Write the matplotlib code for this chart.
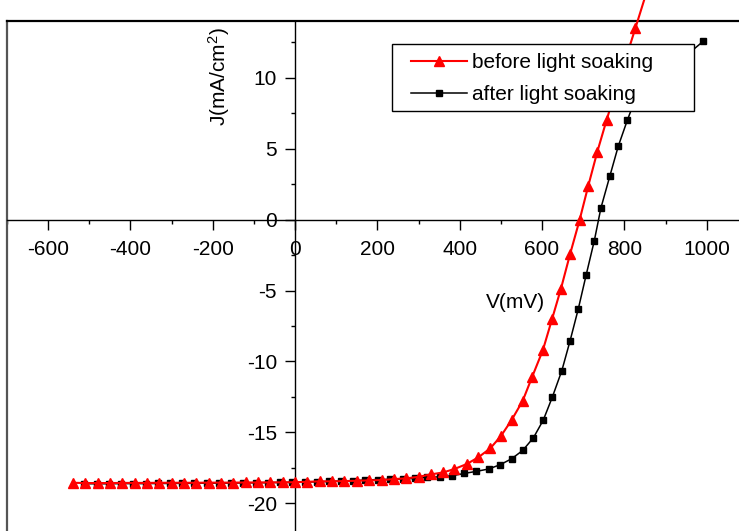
import matplotlib
matplotlib.use('Agg')
import matplotlib.pyplot as plt
from matplotlib.patches import Rectangle
from matplotlib.ticker import MultipleLocator

plt.rcParams['font.family'] = ['Liberation Sans', 'DejaVu Sans']
plt.rcParams['axes.unicode_minus'] = False
plt.rcParams['mathtext.fontset'] = 'custom'
plt.rcParams['mathtext.rm'] = 'Liberation Sans'
plt.rcParams['mathtext.it'] = 'Liberation Sans'

# before light soaking (red triangles)
v_before = [-540, -510, -480, -450, -420, -390, -360, -330, -300, -270, -240, -210,
            -180, -150, -120, -90, -60, -30, 0, 30, 60, 90, 120, 150, 180, 210, 240,
            270, 300, 330, 360, 387, 417, 445, 474, 500, 526, 553, 576, 602, 624, 646,
            668, 691, 712, 734, 757, 780, 804, 827, 873]
j_before = [-18.55, -18.57, -18.57, -18.57, -18.56, -18.56, -18.56, -18.55, -18.55,
            -18.55, -18.55, -18.54, -18.54, -18.54, -18.53, -18.53, -18.52, -18.52,
            -18.51, -18.48, -18.45, -18.45, -18.43, -18.41, -18.38, -18.36, -18.29,
            -18.24, -18.13, -17.96, -17.82, -17.58, -17.23, -16.76, -16.13, -15.26,
            -14.13, -12.77, -11.08, -9.2, -7.04, -4.86, -2.44, -0.05, 2.35, 4.76,
            7.04, 9.2, 11.4, 13.52, 17.8]

# after light soaking (black squares)
v_after = [-512, -482, -452, -423, -393, -363, -334, -304, -274, -245, -215, -185,
           -155, -126, -96, -66, -37, -7, 23, 52, 82, 112, 141, 171, 202, 231, 262,
           292, 321, 352, 381, 411, 440, 470, 498, 526, 553, 579, 603, 625, 648, 668,
           688, 707, 727, 743, 765, 785, 807, 828, 992]
j_after = [-18.62, -18.62, -18.62, -18.61, -18.61, -18.61, -18.60, -18.60, -18.59,
           -18.59, -18.58, -18.58, -18.57, -18.56, -18.55, -18.54, -18.53, -18.52,
           -18.50, -18.48, -18.46, -18.43, -18.40, -18.36, -18.32, -18.31, -18.29,
           -18.24, -18.17, -18.13, -18.06, -17.89, -17.75, -17.58, -17.28, -16.86,
           -16.27, -15.38, -14.13, -12.51, -10.65, -8.55, -6.30, -3.92, -1.48, 0.82,
           3.10, 5.16, 6.99, 8.61, 12.58]

W, H = 739, 531
fs = 15
fig = plt.figure(figsize=(W / 100, H / 100), dpi=100)
ax = fig.add_axes([7 / W, 0, 732 / W, 510 / H])

l2, = ax.plot(v_after, j_after, color='black', lw=1.1, marker='s', ms=5,
              clip_on=False, zorder=3, label='after light soaking')
l1, = ax.plot(v_before, j_before, color='red', lw=1.5, marker='^', ms=7,
              clip_on=False, zorder=4, label='before light soaking')

ax.set_xlim(-700, 1078.5)
ax.set_ylim(-21.95, 14)

# axes crossing at zero
ax.spines['left'].set_position(('data', 0))
ax.spines['bottom'].set_position(('data', 0))
ax.spines['right'].set_visible(False)
ax.spines['left'].set_linewidth(1.0)
ax.spines['bottom'].set_linewidth(1.0)
ax.spines['top'].set_linewidth(1.6)
ax.plot([0, 0], [0, 1], transform=ax.transAxes, color='#555555', lw=1.6, clip_on=False)

ax.xaxis.set_major_locator(MultipleLocator(200))
ax.xaxis.set_minor_locator(MultipleLocator(100))
ax.yaxis.set_major_locator(MultipleLocator(5))
ax.yaxis.set_minor_locator(MultipleLocator(2.5))
ax.tick_params(which='major', direction='out', length=7, width=1, labelsize=fs)
ax.tick_params(which='minor', direction='out', length=3, width=1)
ax.tick_params(axis='x', pad=8)
ax.tick_params(axis='y', pad=6)
ax.tick_params(top=False, right=False)

fig.text(219 / W, 1 - 77 / H, 'J(mA/cm$^2$)', rotation=90, ha='center', va='center', fontsize=fs)
fig.text(515 / W, 1 - 302 / H, 'V(mV)', ha='center', va='center', fontsize=fs)

box = Rectangle((392 / W, 1 - 111 / H), 302 / W, 67 / H, transform=fig.transFigure,
                facecolor='white', edgecolor='black', lw=1, zorder=4)
fig.add_artist(box)
fig.legend(handles=[l1, l2], loc='upper left', bbox_to_anchor=(410.7 / W, 1 - 53.5 / H),
           frameon=False, borderpad=0, borderaxespad=0, fontsize=fs, numpoints=1,
           handlelength=2.69, handletextpad=0.24, labelspacing=0.6)

fig.savefig('out.png', dpi=100)
